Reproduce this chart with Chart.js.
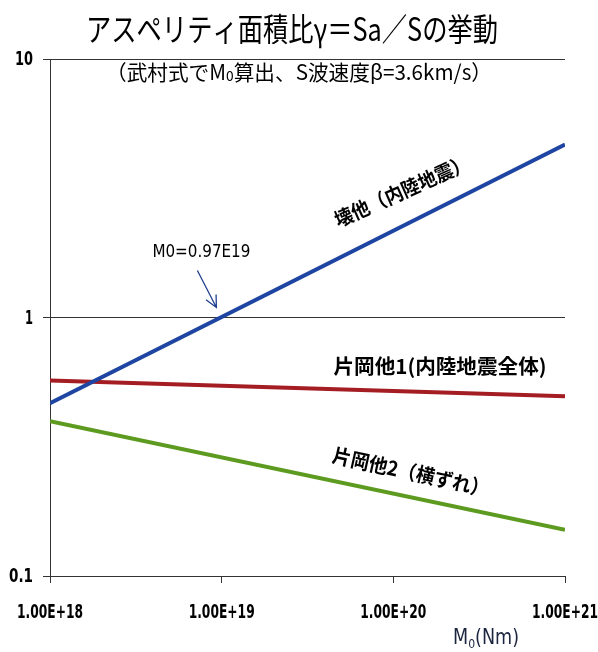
<!DOCTYPE html>
<html>
<head>
<meta charset="utf-8">
<script src="https://cdn.jsdelivr.net/npm/chart.js@4.4.1/dist/chart.umd.min.js"></script>
<style>
  html, body { margin: 0; padding: 0; background: #fff; }
  #wrap { width: 598px; height: 652px; }
</style>
</head>
<body>
<div id="wrap"><canvas id="c" width="598" height="652"></canvas></div>
<script>
// Seismic moment M0 (Nm) at the ends of each fitted line
const moments = [1.0e18, 1.0e21];
// Asperity area ratio γ = Sa/S for each relation
const irikuraRatio = [0.466, 4.67];   // 壊他（内陸地震）
const kataoka1Ratio = [0.571, 0.496]; // 片岡他1(内陸地震全体)
const kataoka2Ratio = [0.397, 0.151]; // 片岡他2（横ずれ）
// Where the 壊他 line reaches γ = 1
const crossMoment = 0.97e19;
const crossRatio = 1;

const xTickValues = [1e18, 1e19, 1e20, 1e21];
const xTickLabels = ['1.00E+18', '1.00E+19', '1.00E+20', '1.00E+21'];
const yTickValues = [0.1, 1, 10];
const yTickLabels = ['0.1', '1', '10'];

const JP = '"Noto Sans CJK JP", "Noto Sans", sans-serif';
const NARROW = '"Liberation Sans Narrow", "DejaVu Sans Condensed", "Liberation Sans", sans-serif';
const TICKFONT = 'bold 20px "DejaVu Sans Condensed", "Liberation Sans", sans-serif';

function toPoints(xs, ys) { return xs.map((x, i) => ({ x: x, y: ys[i] })); }

// Draw a row of text runs squeezed to a given width (align: 'center' | 'right')
function drawRuns(ctx, runs, cx, cy, width, angle, align) {
  ctx.save();
  let total = 0;
  runs.forEach(r => { ctx.font = r.font; r.w = ctx.measureText(r.t).width; total += r.w; });
  ctx.translate(cx, cy);
  ctx.rotate((angle || 0) * Math.PI / 180);
  const sx = width ? width / total : 1;
  ctx.scale(sx, 1);
  let x = align === 'right' ? -total : -total / 2;
  ctx.textBaseline = 'middle';
  ctx.textAlign = 'left';
  runs.forEach(r => {
    ctx.font = r.font;
    ctx.fillStyle = r.color || '#000';
    ctx.fillText(r.t, x, r.dy || 0);
    x += r.w;
  });
  ctx.restore();
}

const textPlugin = {
  id: 'chartText',
  afterDraw(chart) {
    const ctx = chart.ctx;
    const xs = chart.scales.x, ys = chart.scales.y;
    const area = chart.chartArea;

    // Tick labels, condensed
    xTickValues.forEach((v, i) => {
      drawRuns(ctx, [{ t: xTickLabels[i], font: TICKFONT }], xs.getPixelForValue(v), area.bottom + 37, 66);
    });
    const yWidths = { '0.1': 24, '1': 8, '10': 18 };
    yTickValues.forEach((v, i) => {
      const t = yTickLabels[i];
      drawRuns(ctx, [{ t: t, font: TICKFONT }], area.left - 17, ys.getPixelForValue(v) + 1, yWidths[t], 0, 'right');
    });

    // Title and subtitle
    drawRuns(ctx, [{ t: 'アスペリティ面積比γ＝Sa／Sの挙動', font: '32px ' + JP }], 292, 29, 412);
    drawRuns(ctx, [
      { t: '（武村式でM', font: '21px ' + JP },
      { t: '0', font: '14px ' + JP, dy: 4 },
      { t: '算出、S波速度β=3.6km/s）', font: '21px ' + JP }
    ], 299, 72, 386);

    // Line labels
    drawRuns(ctx, [{ t: '壊他（内陸地震）', font: 'bold 20px ' + JP }], 402, 191, 146, -24);
    drawRuns(ctx, [{ t: '片岡他1(内陸地震全体)', font: 'bold 20px ' + JP }], 440, 366, 213);
    drawRuns(ctx, [{ t: '片岡他2（横ずれ）', font: 'bold 20px ' + JP }], 411, 472, 160, 12.5);

    // Crossing note and arrow
    const px = xs.getPixelForValue(crossMoment);
    const py = ys.getPixelForValue(crossRatio);
    drawRuns(ctx, [{ t: 'M0=0.97E19', font: '18px ' + NARROW }], px - 18, py - 65, 98);
    const tipX = px - 3, tipY = py - 10;
    const tailX = px - 22, tailY = py - 47;
    ctx.save();
    ctx.strokeStyle = '#1f3f8f';
    ctx.lineWidth = 1.3;
    ctx.beginPath();
    ctx.moveTo(tailX, tailY);
    ctx.lineTo(tipX, tipY);
    const a = Math.atan2(tipY - tailY, tipX - tailX);
    const hl = 13;
    ctx.moveTo(tipX - hl * Math.cos(a - 0.45), tipY - hl * Math.sin(a - 0.45));
    ctx.lineTo(tipX, tipY);
    ctx.lineTo(tipX - hl * Math.cos(a + 0.45), tipY - hl * Math.sin(a + 0.45));
    ctx.stroke();
    ctx.restore();

    // Axis title M0(Nm)
    drawRuns(ctx, [
      { t: 'M', font: '21px ' + NARROW, color: '#1c2540' },
      { t: '0', font: '13px ' + NARROW, dy: 6, color: '#1c2540' },
      { t: '(Nm)', font: '21px ' + NARROW, color: '#1c2540' }
    ], 486, 639, 66);
  }
};

const lineStyle = { borderWidth: 4, pointRadius: 0, showLine: true, fill: false, tension: 0 };

new Chart(document.getElementById('c'), {
  type: 'scatter',
  data: {
    datasets: [
      Object.assign({ label: '壊他（内陸地震）', data: toPoints(moments, irikuraRatio), borderColor: '#1f45a3' }, lineStyle),
      Object.assign({ label: '片岡他1(内陸地震全体)', data: toPoints(moments, kataoka1Ratio), borderColor: '#a31d22' }, lineStyle),
      Object.assign({ label: '片岡他2（横ずれ）', data: toPoints(moments, kataoka2Ratio), borderColor: '#5d9a20' }, lineStyle)
    ]
  },
  options: {
    responsive: false,
    animation: false,
    events: [],
    layout: { padding: { top: 59, right: 33, left: 0, bottom: 0 } },
    plugins: { legend: { display: false }, title: { display: false }, tooltip: { enabled: false } },
    scales: {
      x: {
        type: 'logarithmic',
        min: 1e18, max: 1e21,
        afterBuildTicks(scale) { scale.ticks = xTickValues.map(v => ({ value: v })); },
        afterFit(scale) {
          scale.height = 76;
          scale.paddingLeft = 0; scale.paddingRight = 0;
        },
        grid: { drawOnChartArea: false, drawTicks: true, tickLength: 7, color: '#333', lineWidth: 1 },
        border: { display: true, color: '#333', width: 1 },
        ticks: { display: false, autoSkip: false, maxRotation: 0, minRotation: 0 }
      },
      y: {
        type: 'logarithmic',
        min: 0.1, max: 10,
        afterBuildTicks(scale) { scale.ticks = yTickValues.map(v => ({ value: v })); },
        afterFit(scale) {
          scale.width = 50;
          scale.paddingTop = 0; scale.paddingBottom = 0;
        },
        grid: { drawOnChartArea: true, drawTicks: true, tickLength: 7, color: '#333', lineWidth: 1 },
        border: { display: true, color: '#333', width: 1 },
        ticks: { display: false }
      }
    }
  },
  plugins: [textPlugin]
});
</script>
</body>
</html>
